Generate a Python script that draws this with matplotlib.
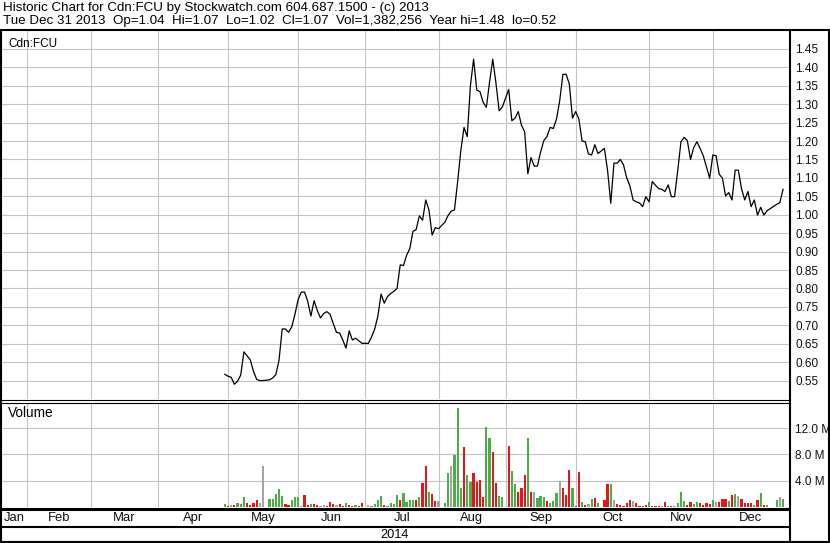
import numpy as np
import pandas as pd
import matplotlib
matplotlib.use('Agg')
import matplotlib.pyplot as plt
from matplotlib.lines import Line2D

plt.rcParams['font.family'] = ['Liberation Sans', 'DejaVu Sans']

# ---------------------------------------------------------
# Data
# ---------------------------------------------------------

title_line1 = "Historic Chart for Cdn:FCU by Stockwatch.com 604.687.1500 - (c) 2013"
title_line2 = ("Tue Dec 31 2013  Op=1.04  Hi=1.07  Lo=1.02  Cl=1.07  "
               "Vol=1,382,256  Year hi=1.48  lo=0.52")
symbol = "Cdn:FCU"
year_label = "2014"
months = ['Jan', 'Feb', 'Mar', 'Apr', 'May', 'Jun',
          'Jul', 'Aug', 'Sep', 'Oct', 'Nov', 'Dec']

first_day = '2014-04-30'
last_day = '2014-12-31'
holidays = ['2014-05-19', '2014-07-01', '2014-08-04', '2014-09-01',
            '2014-10-13', '2014-12-25', '2014-12-26']

# closing prices per month
close_apr = [0.567]
close_may = [0.562, 0.559, 0.540, 0.548, 0.565, 0.628, 0.617, 0.606, 0.575, 0.553,
             0.550, 0.550, 0.552, 0.557, 0.566, 0.605, 0.690, 0.690, 0.681, 0.696,
             0.730]
close_jun = [0.770, 0.790, 0.790, 0.765, 0.725, 0.767, 0.740, 0.720, 0.732, 0.737,
             0.730, 0.705, 0.681, 0.679, 0.660, 0.638, 0.685, 0.660, 0.665, 0.658,
             0.651]
close_jul = [0.651, 0.668, 0.690, 0.725, 0.785, 0.760, 0.778, 0.786, 0.792, 0.800,
             0.864, 0.862, 0.890, 0.908, 0.955, 0.960, 0.997, 0.985, 1.040, 1.013,
             0.945, 0.965]
close_aug = [0.962, 0.980, 0.998, 1.010, 1.013, 1.090, 1.175, 1.237, 1.212, 1.350,
             1.422, 1.338, 1.334, 1.305, 1.291, 1.360, 1.422, 1.358, 1.282, 1.292]
close_sep = [1.340, 1.255, 1.262, 1.280, 1.243, 1.225, 1.111, 1.155, 1.132, 1.132,
             1.170, 1.201, 1.212, 1.237, 1.234, 1.260, 1.310, 1.381, 1.381, 1.355,
             1.262]
close_oct = [1.280, 1.260, 1.200, 1.198, 1.165, 1.162, 1.190, 1.166, 1.180, 1.120,
             1.031, 1.140, 1.140, 1.150, 1.135, 1.100, 1.078, 1.040, 1.035, 1.032,
             1.022, 1.049]
close_nov = [1.035, 1.090, 1.080, 1.071, 1.069, 1.063, 1.081, 1.049, 1.049, 1.120,
             1.198, 1.210, 1.201, 1.150, 1.182, 1.198, 1.180, 1.160, 1.130, 1.099]
close_dec = [1.162, 1.160, 1.110, 1.099, 1.051, 1.060, 1.040, 1.121, 1.121, 1.070,
             1.040, 1.063, 1.022, 1.040, 0.999, 1.020, 0.999, 1.011, 1.028, 1.033,
             1.069]

# volume in millions per month
vol_apr = [0.46]
vol_may = [0.15, 0.31, 0.31, 0.56, 0.46, 1.53, 0.66, 0.31, 0.61, 1.07,
           0.61, 6.26, 1.22, 1.22, 1.93, 2.75, 1.68, 0.46, 0.31, 1.07,
           1.53]
vol_jun = [1.53, 0.15, 1.83, 0.31, 0.46, 0.46, 0.31, 0.10, 0.31, 0.10,
           0.76, 0.46, 0.36, 0.46, 0.15, 0.61, 0.31, 0.15, 0.25, 0.15,
           0.61]
vol_jul = [0.31, 0.10, 0.46, 1.07, 1.68, 0.31, 0.10, 0.61, 0.46, 1.83,
           1.07, 2.14, 0.76, 1.07, 1.07, 1.07, 1.53, 3.66, 6.26, 2.29,
           1.98, 0.92]
vol_aug = [0.92, 0.61, 5.19, 6.26, 7.99, 15.1, 2.90, 9.16, 4.89, 3.82,
           5.19, 3.82, 4.12, 1.53, 12.16, 10.53, 8.40, 3.66, 1.68, 1.48]
vol_sep = [9.31, 5.50, 3.51, 2.29, 2.90, 4.89, 10.53, 2.29, 2.29, 1.37,
           1.68, 1.53, 0.92, 0.61, 0.92, 2.14, 3.97, 2.90, 1.83, 5.65,
           2.90]
vol_oct = [0.15, 5.34, 0.76, 0.31, 0.46, 1.22, 1.37, 0.61, 1.07, 3.51,
           3.51, 1.07, 0.46, 0.31, 0.15, 0.61, 1.07, 0.92, 0.61, 0.15,
           0.15, 0.31]
vol_nov = [0.76, 0.15, 0.20, 0.15, 0.15, 0.76, 0.15, 0.15, 0.15, 0.61,
           2.29, 0.92, 0.31, 0.76, 0.46, 0.76, 0.61, 0.31, 0.61, 0.46]
vol_dec = [1.07, 0.76, 0.76, 1.22, 1.22, 0.92, 1.83, 1.98, 1.68, 1.22,
           0.61, 0.61, 0.61, 0.31, 1.07, 2.14, 0.31, 0.31, 1.07, 1.53,
           1.22]

# bar colour per day: g = up, r = down, n = unchanged
col_apr = "g"
col_may = "rnrgggrrrrnngggggrrgg"
col_jun = "gnrrgrrnnrrrnrrgrrgrr"
col_jul = "ngggg" "rgggg" "rgggg" "rgrrg" "rr"
col_aug = "n" "ggngg" "grggr" "rrrgg" "rrgg"
col_sep = "rggrrrgrngggrgggnrrrg"
col_oct = "rrgrngrg" "rrgnrrrrrnrrrr"
col_nov = "grrrnrgrngggrrggrrrr"
col_dec = "gnrrrgrgnrrrrgrgrg" "gng"

price_ticks = [0.55, 0.60, 0.65, 0.70, 0.75, 0.80, 0.85, 0.90, 0.95, 1.00,
               1.05, 1.10, 1.15, 1.20, 1.25, 1.30, 1.35, 1.40, 1.45]
vol_ticks = [4, 8, 12]
vol_tick_labels = ['4.0 M', '8.0 M', '12.0 M']

close = (close_apr + close_may + close_jun + close_jul + close_aug
         + close_sep + close_oct + close_nov + close_dec)
volume = (vol_apr + vol_may + vol_jun + vol_jul + vol_aug
          + vol_sep + vol_oct + vol_nov + vol_dec)
codes = (col_apr + col_may + col_jun + col_jul + col_aug
         + col_sep + col_oct + col_nov + col_dec)

palette = {'g': '#4cae46', 'r': '#e3161a', 'n': '#a4a4a4'}
bar_colors = [palette[c] for c in codes]

# ---------------------------------------------------------
# Weekday axis (holidays leave a gap)
# ---------------------------------------------------------

origin = np.datetime64('2014-02-03')
px_per_day = 3.19

days = pd.bdate_range(first_day, last_day)
days = days[~days.isin(pd.to_datetime(holidays))]
x = np.busday_count(origin, days.values.astype('datetime64[D]'))

month_firsts = np.arange('2014-02', '2015-01', dtype='datetime64[M]').astype('datetime64[D]')
month_lines = np.busday_count(origin, np.busday_offset(month_firsts, 0, roll='forward'))

xlim = (-25 / px_per_day, (789 - 27) / px_per_day)
edges = np.concatenate([[xlim[0]], month_lines, [xlim[1]]])
label_pos = (edges[:-1] + edges[1:]) / 2

# ---------------------------------------------------------
# Figure layout in pixels
# ---------------------------------------------------------

W, H = 830, 543


def rect(x0, y0, x1, y1):
    return [x0 / W, 1 - y1 / H, (x1 - x0) / W, (y1 - y0) / H]


def hline(y, x0, x1, lw):
    fig.add_artist(Line2D([x0 / W, x1 / W], [1 - y / H, 1 - y / H],
                          transform=fig.transFigure, color='black', lw=lw,
                          solid_capstyle='butt', zorder=10))


def vline(x_, y0, y1, lw):
    fig.add_artist(Line2D([x_ / W, x_ / W], [1 - y0 / H, 1 - y1 / H],
                          transform=fig.transFigure, color='black', lw=lw,
                          solid_capstyle='butt', zorder=10))


fig = plt.figure(figsize=(W / 100, H / 100), dpi=100)
fig.patch.set_facecolor('white')

grid_color = '#c4c4c4'
fs = 8.5

# price panel
ax = fig.add_axes(rect(2, 31, 789, 399))
ax.plot(x, close, color='black', lw=0.9)
ax.set_xlim(*xlim)
ax.set_ylim(0.500, 1.4985)
ax.set_yticks(price_ticks)
ax.set_yticklabels([f'{t:.2f}' for t in price_ticks])
ax.set_xticks(month_lines)
ax.set_xticklabels([])
ax.yaxis.tick_right()
ax.tick_params(axis='both', length=0)
ax.tick_params(axis='y', pad=4.5, labelsize=fs, labelcolor='#111111')
ax.grid(True, color=grid_color, lw=0.8)
for s in ax.spines.values():
    s.set_visible(False)

# volume panel
axv = fig.add_axes(rect(2, 403, 789, 507))
axv.bar(x, volume, width=0.7, color=bar_colors, linewidth=0, zorder=3)
axv.set_xlim(*xlim)
axv.set_ylim(0, 15.83)
axv.set_yticks(vol_ticks)
axv.set_yticklabels(vol_tick_labels)
axv.set_xticks(month_lines)
axv.set_xticklabels([])
axv.yaxis.tick_right()
axv.tick_params(axis='both', length=0)
axv.tick_params(axis='y', pad=4.5, labelsize=fs, labelcolor='#111111')
axv.grid(True, color=grid_color, lw=0.8)
for s in axv.spines.values():
    s.set_visible(False)

# month labels row
axm = fig.add_axes(rect(2, 509, 789, 526))
axm.set_xlim(*xlim)
axm.set_ylim(0, 1)
axm.axis('off')
for pos, m in zip(label_pos, months):
    axm.text(pos, 0.45, m, ha='center', va='center', fontsize=9.4, color='#111111')

# texts
fig.text(3 / W, 1 - 8 / H, title_line1, ha='left', va='center', fontsize=9.6)
fig.text(3 / W, 1 - 21 / H, title_line2, ha='left', va='center', fontsize=9.6)
fig.text(8 / W, 1 - 44 / H, symbol, ha='left', va='center', fontsize=fs)
fig.text(8 / W, 1 - 413 / H, 'Volume', ha='left', va='center', fontsize=9.8)
fig.text(395 / W, 1 - 534.5 / H, year_label, ha='center', va='center', fontsize=9.2)

# frame lines
hline(30, 0, 830, 1.5)
vline(1, 30, 543, 1.5)
vline(828.5, 30, 543, 1.5)
hline(541.5, 0, 830, 1.5)
vline(789.5, 30, 543, 1.5)
hline(399.5, 0, 789, 0.8)
hline(402.5, 0, 789, 0.8)
hline(508.5, 0, 789, 2.2)
hline(526.5, 0, 789, 1.5)

fig.savefig('out.png', dpi=100, facecolor='white')
